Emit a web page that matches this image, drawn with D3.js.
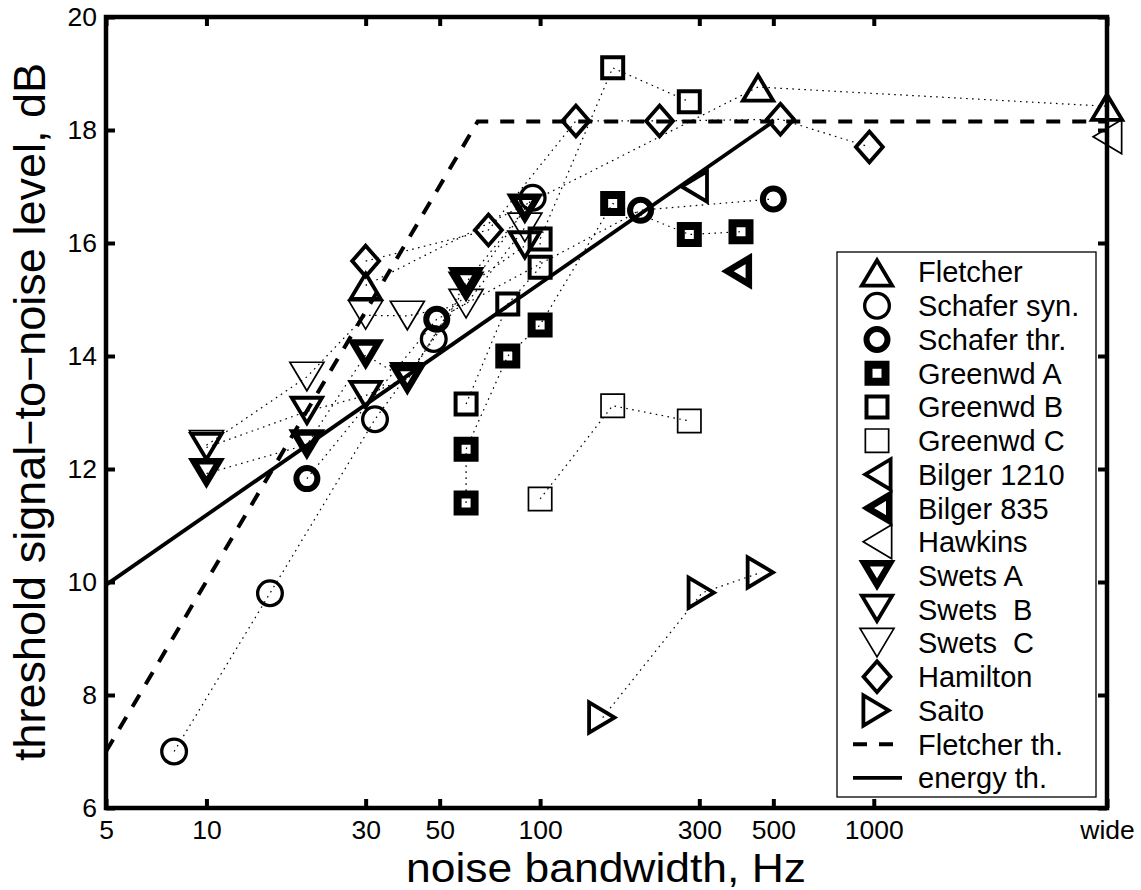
<!DOCTYPE html>
<html><head><meta charset="utf-8">
<script src="https://cdn.jsdelivr.net/npm/d3@7"></script>
<style>
html,body{margin:0;padding:0;background:#fff;}
svg{display:block;font-family:"Liberation Sans",Arial,Helvetica,sans-serif;}
</style></head><body>
<svg id="chart" width="1141" height="890"></svg>
<script>
// ---------- data ----------
const WIDE = 5000; // position used for the "wide" (broadband) condition
const xTickValues = [5, 10, 30, 50, 100, 300, 500, 1000, WIDE];
const xTickLabels = ["5", "10", "30", "50", "100", "300", "500", "1000", "wide"];
const yTickValues = [6, 8, 10, 12, 14, 16, 18, 20];

const fletcherX = [30, 450, WIDE];
const fletcherY = [15.25, 18.76, 18.42];
const schaferSynX = [8, 15.5, 32, 48, 95];
const schaferSynY = [7.0, 9.8, 12.88, 14.3, 16.8];
const schaferThrX = [20, 49, 200, 500];
const schaferThrY = [11.83, 14.65, 16.58, 16.78];
const greenwdAX = [60, 60, 80, 100, 165, 280, 400];
const greenwdAY = [11.4, 12.35, 14.0, 14.55, 16.7, 16.15, 16.2];
const greenwdBX = [60, 80, 100, 100, 165, 280];
const greenwdBY = [13.15, 14.92, 15.57, 16.07, 19.1, 18.5];
const greenwdCX = [100, 165, 280];
const greenwdCY = [11.47, 13.12, 12.85];
const bilger1210X = [288];
const bilger1210Y = [17.0];
const bilger835X = [388];
const bilger835Y = [15.5];
const hawkinsX = [WIDE];
const hawkinsY = [17.88];
const swetsAX = [10, 20, 30, 40, 60, 90];
const swetsAY = [11.92, 12.43, 14.02, 13.57, 15.3, 16.6];
const swetsBX = [10, 20, 30, 40, 60, 90];
const swetsBY = [12.38, 13.02, 13.3, 13.62, 15.22, 15.95];
const swetsCX = [10, 20, 30, 40, 60, 90];
const swetsCY = [12.42, 13.63, 14.72, 14.71, 14.92, 16.27];
const hamiltonX = [30, 70, 128, 228, 525, 970];
const hamiltonY = [15.68, 16.23, 18.16, 18.16, 18.19, 17.7];
const saitoX = [154, 306, 460];
const saitoY = [7.6, 9.81, 10.17];
const fletcherThX = [5, 65, WIDE];
const fletcherThY = [7.0, 18.15, 18.15];
const energyThX = [5, 500];
const energyThY = [9.95, 18.15];

const seriesNames = ["Fletcher", "Schafer syn.", "Schafer thr.", "Greenwd A", "Greenwd B", "Greenwd C",
  "Bilger 1210", "Bilger 835", "Hawkins", "Swets A", "Swets  B", "Swets  C", "Hamilton", "Saito"];
const lineNames = ["Fletcher th.", "energy th."];

// ---------- styles ----------
const series = [
  {xs: fletcherX, ys: fletcherY, shape: "up", sw: 3.8},
  {xs: schaferSynX, ys: schaferSynY, shape: "circle", sw: 3.3, outer: 14},
  {xs: schaferThrX, ys: schaferThrY, shape: "circle", sw: 6, outer: 13.5},
  {xs: greenwdAX, ys: greenwdAY, shape: "square", sw: 8},
  {xs: greenwdBX, ys: greenwdBY, shape: "square", sw: 4},
  {xs: greenwdCX, ys: greenwdCY, shape: "square", sw: 1.7},
  {xs: bilger1210X, ys: bilger1210Y, shape: "left", sw: 3.8},
  {xs: bilger835X, ys: bilger835Y, shape: "left", sw: 6.5},
  {xs: hawkinsX, ys: hawkinsY, shape: "left", sw: 1.7},
  {xs: swetsAX, ys: swetsAY, shape: "down", sw: 6.5},
  {xs: swetsBX, ys: swetsBY, shape: "down", sw: 3.8},
  {xs: swetsCX, ys: swetsCY, shape: "down", sw: 1.7},
  {xs: hamiltonX, ys: hamiltonY, shape: "diamond", sw: 3.8},
  {xs: saitoX, ys: saitoY, shape: "right", sw: 3.8}
];
series.forEach((s, i) => s.name = seriesNames[i]);

function markerPath(s) {
  const sw = s.sw;
  if (s.shape === "circle") {
    const r = s.outer - sw / 2;
    return `M${r},0A${r},${r} 0 1,1 ${-r},0A${r},${r} 0 1,1 ${r},0Z`;
  }
  if (s.shape === "square") {
    const h = 12.5 - sw / 2;
    return `M${-h},${-h}H${h}V${h}H${-h}Z`;
  }
  if (s.shape === "diamond") {
    const a = 16, b = 18.3;
    const r = a * b / Math.hypot(a, b);
    const k = (r - sw / 2) / r;
    return `M0,${-b * k}L${a * k},0L0,${b * k}L${-a * k},0Z`;
  }
  // triangles
  const B = 37, H = 31;
  const leg = Math.hypot(B / 2, H);
  const r = (B * H / 2) / ((B + 2 * leg) / 2);
  const cy = H / 2 - r;
  const k = (r - sw / 2) / r;
  let pts = [[0, -H / 2], [B / 2, H / 2], [-B / 2, H / 2]].map(([px, py]) => [k * px, cy + k * (py - cy)]);
  const rot = {
    up: p => p,
    down: ([a, b]) => [a, -b],
    left: ([a, b]) => [b, a],
    right: ([a, b]) => [-b, a]
  }[s.shape];
  pts = pts.map(rot);
  return "M" + pts.map(p => p[0].toFixed(2) + "," + p[1].toFixed(2)).join("L") + "Z";
}

// ---------- chart ----------
const svg = d3.select("#chart");
const x = d3.scaleLog().domain([5, WIDE]).range([106, 1107]);
const y = d3.scaleLinear().domain([6, 20]).range([808, 17]);

// dotted connecting lines
const line = d3.line().x(d => x(d[0])).y(d => y(d[1]));
const gLines = svg.append("g");
series.forEach(s => {
  if (s.xs.length < 2) return;
  gLines.append("path")
    .attr("d", line(s.xs.map((v, i) => [v, s.ys[i]])))
    .attr("fill", "none").attr("stroke", "#000")
    .attr("stroke-width", 1.2).attr("stroke-dasharray", "1.6 4.4");
});

// theory lines
svg.append("path")
  .attr("d", line(fletcherThX.map((v, i) => [v, fletcherThY[i]])))
  .attr("fill", "none").attr("stroke", "#000").attr("stroke-width", 4)
  .attr("stroke-dasharray", "14 12");
svg.append("path")
  .attr("d", line(energyThX.map((v, i) => [v, energyThY[i]])))
  .attr("fill", "none").attr("stroke", "#000").attr("stroke-width", 3.8);

// markers
const gMarks = svg.append("g");
series.forEach(s => {
  const p = markerPath(s);
  gMarks.selectAll(null).data(s.xs.map((v, i) => [v, s.ys[i]])).join("path")
    .attr("d", p)
    .attr("transform", d => `translate(${x(d[0])},${y(d[1])})`)
    .attr("fill", "none").attr("stroke", "#000")
    .attr("stroke-width", s.sw).attr("stroke-linejoin", "miter").attr("stroke-miterlimit", 10);
});

// axes
function styleAxis(g) {
  g.select(".domain").remove();
  g.selectAll(".tick line").attr("stroke", "#000").attr("stroke-width", 4);
  g.selectAll(".tick text").attr("fill", "#000").attr("font-size", 26.5)
    .attr("font-family", '"Liberation Sans",Arial,Helvetica,sans-serif');
}
svg.append("g").attr("transform", "translate(0,808)")
  .call(d3.axisBottom(x).tickValues(xTickValues).tickFormat((d, i) => xTickLabels[i])
    .tickSizeInner(-9).tickSizeOuter(0).tickPadding(12))
  .call(styleAxis);
svg.append("g").attr("transform", "translate(0,17)")
  .call(d3.axisTop(x).tickValues(xTickValues).tickFormat("")
    .tickSizeInner(-9).tickSizeOuter(0))
  .call(styleAxis);
svg.append("g").attr("transform", "translate(106,0)")
  .call(d3.axisLeft(y).tickValues(yTickValues).tickFormat(d3.format("d"))
    .tickSizeInner(-9).tickSizeOuter(0).tickPadding(9))
  .call(styleAxis);
svg.append("g").attr("transform", "translate(1107,0)")
  .call(d3.axisRight(y).tickValues(yTickValues).tickFormat("")
    .tickSizeInner(-9).tickSizeOuter(0))
  .call(styleAxis);

// frame
svg.append("rect").attr("x", 106).attr("y", 17).attr("width", 1107 - 106).attr("height", 808 - 17)
  .attr("fill", "none").attr("stroke", "#000").attr("stroke-width", 4.5);

// axis titles
svg.append("text").attr("x", 606).attr("y", 881.5).attr("text-anchor", "middle")
  .attr("font-size", 40).attr("textLength", 400).attr("lengthAdjust", "spacingAndGlyphs")
  .text("noise bandwidth, Hz");
svg.append("text").attr("transform", "translate(45,412) rotate(-90)").attr("text-anchor", "middle")
  .attr("font-size", 45).text("threshold signal\u2212to\u2212noise level, dB");

// legend
const lg = svg.append("g");
lg.append("rect").attr("x", 837).attr("y", 252).attr("width", 259).attr("height", 545)
  .attr("fill", "#fff").attr("stroke", "#000").attr("stroke-width", 1.3);
const rowY = i => 272 + i * 33.73;
series.forEach((s, i) => {
  lg.append("path").attr("d", markerPath(s)).attr("transform", `translate(877,${rowY(i)})`)
    .attr("fill", "none").attr("stroke", "#000").attr("stroke-width", s.sw)
    .attr("stroke-linejoin", "miter").attr("stroke-miterlimit", 10);
  lg.append("text").attr("x", 918).attr("y", rowY(i) + 10.4).attr("font-size", 29)
    .style("white-space", "pre").text(s.name);
});
lineNames.forEach((n, j) => {
  const i = series.length + j;
  lg.append("line").attr("x1", 853).attr("x2", 902).attr("y1", rowY(i)).attr("y2", rowY(i))
    .attr("stroke", "#000").attr("stroke-width", j === 0 ? 4 : 3.8)
    .attr("stroke-dasharray", j === 0 ? "14 12" : null);
  lg.append("text").attr("x", 918).attr("y", rowY(i) + 10.4).attr("font-size", 29)
    .style("white-space", "pre").text(n);
});
</script>
</body></html>
